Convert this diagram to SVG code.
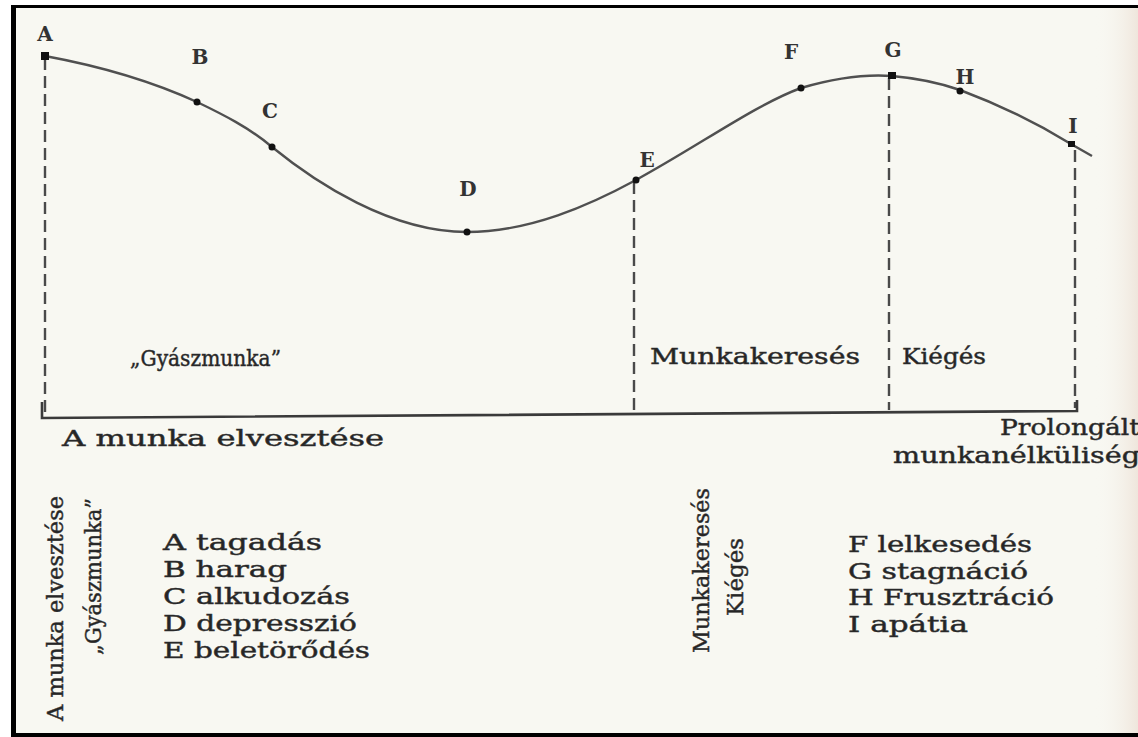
<svg xmlns="http://www.w3.org/2000/svg" width="1138" height="737" viewBox="0 0 1138 737">
<defs>
<linearGradient id="edge" x1="0" y1="0" x2="1" y2="0">
<stop offset="0" stop-color="#f8f8f2" stop-opacity="0"/>
<stop offset="1" stop-color="#efe6dc"/>
</linearGradient>
</defs>
<style>
text{font-family:"DejaVu Serif","Liberation Serif",serif;fill:#252525;stroke:#333;stroke-width:0.45}
.pt{font-size:20px;font-weight:bold;text-anchor:middle;fill:#333;stroke:none}
.lbl{font-size:22px}
.leg{font-size:22px}
.dash{stroke:#4a4a4a;stroke-width:2.4;stroke-dasharray:12 6;fill:none}
.dot{fill:#111}
</style>
<rect x="0" y="0" width="1138" height="737" fill="#ffffff"/>
<rect x="13" y="6" width="1125" height="729" fill="#f8f8f2"/>
<rect x="1095" y="6" width="43" height="729" fill="url(#edge)"/>
<g id="frame" fill="#000">
<rect x="11" y="5" width="5" height="732"/>
<rect x="11" y="5" width="1127" height="3"/>
<rect x="11" y="733" width="1127" height="4"/>
</g>
<g id="connectors">
<path d="M45,56 C110,68 160,85 197,102 C222,114 250,128 272,147 C315,182 390,232 467,232 C530,232 590,205 636,180 C700,145 755,105 801,88 C835,78 865,74 892,76 C915,78 940,83 960,90 C1000,105 1040,125 1071,144 L1092,156" fill="none" stroke="#505050" stroke-width="2.4"/>
<line class="dash" x1="45" y1="58" x2="45" y2="414"/>
<line class="dash" x1="634" y1="182" x2="634" y2="412"/>
<line class="dash" x1="889" y1="78" x2="889" y2="410"/>
<line class="dash" x1="1075" y1="150" x2="1075" y2="408"/>
<path d="M42,402 L42,418 L1077,411 L1077,400" fill="none" stroke="#3a3a3a" stroke-width="2.6"/>
</g>
<g id="nodeA"><rect class="dot" x="41" y="52" width="8" height="8"/><text class="pt" x="45" y="41">A</text></g>
<g id="nodeB"><circle class="dot" cx="197" cy="102" r="3.5"/><text class="pt" x="200" y="64">B</text></g>
<g id="nodeC"><circle class="dot" cx="272" cy="147" r="3.5"/><text class="pt" x="270" y="118">C</text></g>
<g id="nodeD"><circle class="dot" cx="467" cy="232" r="3.5"/><text class="pt" x="468" y="196">D</text></g>
<g id="nodeE"><circle class="dot" cx="636" cy="180" r="3.5"/><text class="pt" x="647" y="167">E</text></g>
<g id="nodeF"><circle class="dot" cx="801" cy="88" r="3.5"/><text class="pt" x="791" y="59">F</text></g>
<g id="nodeG"><rect class="dot" x="888" y="72" width="8" height="7"/><text class="pt" x="893" y="57">G</text></g>
<g id="nodeH"><circle class="dot" cx="960" cy="91" r="3.5"/><text class="pt" x="965" y="84">H</text></g>
<g id="nodeI"><rect class="dot" x="1068" y="141" width="7" height="6"/><text class="pt" x="1073" y="133">I</text></g>
<g id="phases">
<text class="lbl" x="130" y="366" textLength="151" lengthAdjust="spacingAndGlyphs">„Gyászmunka”</text>
<text class="lbl" x="650" y="364" textLength="210" lengthAdjust="spacingAndGlyphs">Munkakeresés</text>
<text class="lbl" x="902" y="364" textLength="84" lengthAdjust="spacingAndGlyphs">Kiégés</text>
<text class="lbl" x="62" y="446" textLength="322" lengthAdjust="spacingAndGlyphs">A munka elvesztése</text>
<text class="lbl" x="1000" y="435" textLength="140" lengthAdjust="spacingAndGlyphs">Prolongált</text>
<text class="lbl" x="893" y="463" textLength="247" lengthAdjust="spacingAndGlyphs">munkanélküliség</text>
</g>
<g id="rotated">
<text class="lbl" transform="translate(63,721) rotate(-90)" textLength="225" lengthAdjust="spacingAndGlyphs">A munka elvesztése</text>
<text class="lbl" transform="translate(101,655) rotate(-90)" textLength="157" lengthAdjust="spacingAndGlyphs">„Gyászmunka”</text>
<text class="lbl" transform="translate(709,653) rotate(-90)" textLength="165" lengthAdjust="spacingAndGlyphs">Munkakeresés</text>
<text class="lbl" transform="translate(743,616) rotate(-90)" textLength="78" lengthAdjust="spacingAndGlyphs">Kiégés</text>
</g>
<g id="legend-left">
<text class="leg" x="163" y="550" textLength="159" lengthAdjust="spacingAndGlyphs">A  tagadás</text>
<text class="leg" x="163" y="577" textLength="124" lengthAdjust="spacingAndGlyphs">B  harag</text>
<text class="leg" x="163" y="604" textLength="187" lengthAdjust="spacingAndGlyphs">C  alkudozás</text>
<text class="leg" x="163" y="631" textLength="194" lengthAdjust="spacingAndGlyphs">D  depresszió</text>
<text class="leg" x="163" y="658" textLength="207" lengthAdjust="spacingAndGlyphs">E  beletörődés</text>
</g>
<g id="legend-right">
<text class="leg" x="848" y="552" textLength="184" lengthAdjust="spacingAndGlyphs">F  lelkesedés</text>
<text class="leg" x="848" y="579" textLength="180" lengthAdjust="spacingAndGlyphs">G   stagnáció</text>
<text class="leg" x="848" y="605" textLength="206" lengthAdjust="spacingAndGlyphs">H  Frusztráció</text>
<text class="leg" x="848" y="632" textLength="120" lengthAdjust="spacingAndGlyphs">I  apátia</text>
</g>
</svg>
